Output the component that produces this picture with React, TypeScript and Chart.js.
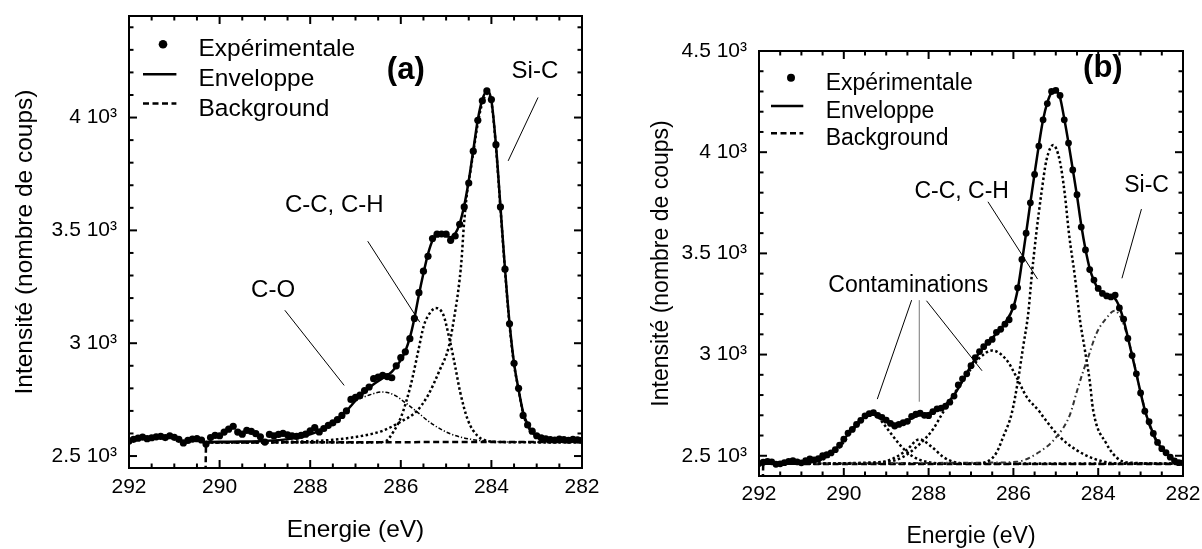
import React, { useEffect, useRef } from 'react';
import { Chart, registerables } from 'chart.js';

Chart.register(...registerables);

const FONT = "'Liberation Sans', Arial, Helvetica, sans-serif";

// ---------------- shared energy grid of the measured points (eV) ----------------
const energyGrid = [
  292.0, 291.9, 291.8, 291.7, 291.6, 291.5, 291.4, 291.3, 291.2, 291.1,
  291.0, 290.9, 290.8, 290.7, 290.6, 290.5, 290.4, 290.3, 290.2, 290.1,
  290.0, 289.9, 289.8, 289.7, 289.6, 289.5, 289.4, 289.3, 289.2, 289.1,
  289.0, 288.9, 288.8, 288.7, 288.6, 288.5, 288.4, 288.3, 288.2, 288.1,
  288.0, 287.9, 287.8, 287.7, 287.6, 287.5, 287.4, 287.3, 287.2, 287.1,
  287.0, 286.9, 286.8, 286.7, 286.6, 286.5, 286.4, 286.3, 286.2, 286.1,
  286.0, 285.9, 285.8, 285.7, 285.6, 285.5, 285.4, 285.3, 285.2, 285.1,
  285.0, 284.9, 284.8, 284.7, 284.6, 284.5, 284.4, 284.3, 284.2, 284.1,
  284.0, 283.9, 283.8, 283.7, 283.6, 283.5, 283.4, 283.3, 283.2, 283.1,
  283.0, 282.9, 282.8, 282.7, 282.6, 282.5, 282.4, 282.3, 282.2, 282.1,
  282.0,
];

// ---------------- panel (a) ----------------
const expA = [
  2567, 2574, 2579, 2584, 2577, 2581, 2585, 2587, 2582, 2590,
  2583, 2574, 2558, 2569, 2575, 2577, 2571, 2553, 2582, 2592,
  2590, 2606, 2619, 2632, 2606, 2597, 2614, 2609, 2599, 2585,
  2562, 2596, 2590, 2596, 2600, 2594, 2590, 2587, 2592, 2597,
  2612, 2626, 2607, 2622, 2636, 2647, 2661, 2680, 2700, 2751,
  2760, 2770, 2790, 2806, 2843, 2850, 2858, 2852, 2847, 2900,
  2936, 2962, 3020, 3110, 3224, 3319, 3385, 3464, 3483, 3484,
  3483, 3456, 3475, 3527, 3604, 3710, 3851, 3988, 4074, 4118,
  4080, 3880, 3604, 3328, 3086, 2911, 2800, 2680, 2638, 2610,
  2590, 2581, 2576, 2573, 2571, 2575, 2573, 2570, 2574, 2572,
  2570,
];

const envEnergyA = [
  290.3, 290.0, 289.5, 289.0, 288.5, 288.0, 287.6, 287.2, 287.0, 286.8,
  286.6, 286.4, 286.2, 286.0, 285.9, 285.8, 285.7, 285.6, 285.5, 285.4,
  285.3, 285.2, 285.1, 285.0, 284.9, 284.8, 284.7, 284.6, 284.5, 284.4,
  284.3, 284.2, 284.1, 284.0, 283.9, 283.8, 283.7, 283.6, 283.5, 283.4,
  283.3, 283.2, 283.1, 283.0, 282.8, 282.5, 282.0,
];
const envA = [
  2562, 2563, 2564, 2567, 2575, 2596, 2632, 2700, 2745, 2785,
  2818, 2845, 2873, 2925, 2965, 3025, 3110, 3215, 3310, 3395,
  3455, 3480, 3484, 3478, 3470, 3485, 3530, 3610, 3720, 3855,
  3990, 4080, 4115, 4075, 3880, 3605, 3330, 3090, 2912, 2795,
  2695, 2640, 2608, 2590, 2575, 2567, 2564,
];

const bgEnergyA = [290.31, 290.3, 282.0];
const bgA = [2430, 2560, 2563];

const sicEnergyA = [
  290.3, 289.5, 288.5, 287.5, 286.84, 286.4, 286.0, 285.65, 285.4, 285.15,
  284.94, 284.79, 284.74, 284.66, 284.61, 284.54, 284.46, 284.37, 284.3, 284.2,
  284.1, 284.0, 283.9, 283.8, 283.7, 283.6, 283.5, 283.4, 283.3, 283.2,
  283.1, 283.0, 282.8, 282.5, 282.0,
];
const sicA = [
  2561, 2561, 2563, 2572, 2590, 2612, 2652, 2699, 2769, 2877,
  2985, 3153, 3220, 3367, 3515, 3663, 3766, 3885, 3975, 4065,
  4105, 4068, 3870, 3598, 3322, 3082, 2905, 2795, 2688, 2634,
  2603, 2585, 2572, 2566, 2563,
];

const ccEnergyA = [
  290.3, 287.0, 286.5, 286.33, 286.15, 285.99, 285.78, 285.61, 285.49, 285.36,
  285.23, 285.06, 284.94, 284.81, 284.69, 284.52, 284.31, 284.14, 283.8, 282.0,
];
const ccA = [
  2560, 2560, 2561, 2566, 2612, 2675, 2815, 2970, 3079, 3133,
  3156, 3125, 3032, 2908, 2784, 2660, 2590, 2570, 2562, 2560,
];

const coEnergyA = [
  290.3, 289.5, 288.95, 288.1, 287.43, 287.0, 286.67, 286.42, 286.16, 285.91,
  285.66, 285.32, 284.9, 284.47, 284.14, 283.5, 282.0,
];
const coA = [
  2560, 2562, 2567, 2590, 2660, 2742, 2772, 2784, 2772, 2738,
  2699, 2644, 2598, 2575, 2567, 2562, 2560,
];

const yTickValuesA = [2500, 3000, 3500, 4000];
const yTickLabelsA = ['2.5 10³', '3 10³', '3.5 10³', '4 10³'];

const annotTextA = ['(a)', 'Si-C', 'C-C, C-H', 'C-O'];
const annotEA = [285.89, 283.04, 287.47, 288.82];
const annotIA = [4172, 4176, 3580, 3203];
const leaderStartEA = [282.97, 286.73, 288.56];
const leaderStartIA = [4089, 3452, 3146];
const leaderEndEA = [283.63, 285.58, 287.25];
const leaderEndIA = [3808, 3093, 2813];

// ---------------- panel (b) ----------------
const expB = [
  2462, 2468, 2472, 2470, 2458, 2460, 2466, 2472, 2476, 2470,
  2465, 2476, 2484, 2480, 2486, 2500, 2505, 2514, 2530, 2553,
  2582, 2612, 2630, 2655, 2675, 2697, 2708, 2713, 2700, 2690,
  2676, 2660, 2647, 2655, 2663, 2670, 2695, 2705, 2710, 2700,
  2698, 2718, 2732, 2735, 2745, 2765, 2795, 2850, 2880, 2905,
  2945, 2985, 3015, 3039, 3060, 3075, 3110, 3125, 3150, 3172,
  3236, 3330, 3470, 3600, 3750, 3890, 4030, 4160, 4240, 4300,
  4305, 4280, 4160, 4045, 3912, 3790, 3630, 3517, 3420, 3368,
  3327, 3302, 3290, 3285, 3294, 3230, 3175, 3080, 2995, 2905,
  2810, 2720, 2668, 2610, 2566, 2535, 2515, 2493, 2475, 2466,
  2465,
];

const envEnergyB = [
  291.9, 291.0, 290.6, 290.4, 290.2, 290.0, 289.8, 289.6, 289.4, 289.3,
  289.2, 289.0, 288.8, 288.6, 288.4, 288.2, 288.0, 287.8, 287.6, 287.4,
  287.2, 287.0, 286.8, 286.6, 286.4, 286.2, 286.0, 285.9, 285.8, 285.7,
  285.6, 285.5, 285.4, 285.3, 285.2, 285.1, 285.0, 284.9, 284.8, 284.7,
  284.6, 284.5, 284.4, 284.3, 284.2, 284.1, 284.0, 283.9, 283.8, 283.7,
  283.6, 283.5, 283.4, 283.3, 283.2, 283.1, 283.0, 282.9, 282.8, 282.6,
  282.4, 282.2, 282.0,
];
const envB = [
  2460, 2462, 2475, 2495, 2530, 2580, 2632, 2677, 2705, 2707,
  2700, 2677, 2658, 2662, 2685, 2703, 2710, 2728, 2752, 2800,
  2870, 2945, 3010, 3058, 3105, 3155, 3235, 3320, 3455, 3600,
  3750, 3895, 4035, 4160, 4245, 4295, 4305, 4270, 4165, 4045,
  3915, 3785, 3640, 3520, 3425, 3365, 3325, 3303, 3290, 3283,
  3275, 3235, 3170, 3085, 2995, 2905, 2812, 2726, 2662, 2565,
  2512, 2478, 2463,
];

const bgEnergyB = [291.91, 291.9, 282.0];
const bgB = [2380, 2460, 2459];

const ccEnergyB = [
  291.9, 287.0, 286.63, 286.4, 286.24, 286.04, 285.89, 285.77, 285.65, 285.57,
  285.46, 285.34, 285.22, 285.06, 284.91, 284.79, 284.69, 284.55, 284.43, 284.32,
  284.2, 284.12, 283.81, 283.49, 283.18, 282.0,
];
const ccB = [
  2460, 2460, 2470, 2515, 2594, 2709, 2874, 3039, 3204, 3385,
  3599, 3797, 3961, 4035, 3961, 3797, 3599, 3385, 3171, 3030,
  2870, 2726, 2561, 2479, 2465, 2460,
];

const sicEnergyB = [
  291.9, 286.7, 285.93, 285.38, 284.98, 284.67, 284.5, 284.35, 284.24, 284.04,
  283.81, 283.61, 283.5, 283.4, 283.2, 283.0, 282.8, 282.6, 282.4, 282.2,
  282.0,
];
const sicB = [
  2460, 2466, 2470, 2520, 2594, 2701, 2820, 2920, 2985, 3105,
  3179, 3217, 3195, 3150, 3000, 2815, 2655, 2560, 2508, 2478,
  2466,
];

const cont1EnergyB = [
  291.9, 290.8, 290.5, 290.2, 290.0, 289.8, 289.6, 289.45, 289.33, 289.2,
  289.07, 288.83, 288.6, 288.36, 288.05, 287.5, 282.0,
];
const cont1B = [
  2460, 2465, 2480, 2520, 2568, 2625, 2668, 2698, 2705, 2693,
  2660, 2594, 2536, 2495, 2470, 2461, 2460,
];

const cont2EnergyB = [291.9, 289.6, 289.15, 288.83, 288.52, 288.22, 287.93, 287.66, 287.34, 287.0, 282.0];
const cont2B = [2460, 2461, 2466, 2487, 2528, 2581, 2545, 2495, 2466, 2461, 2460];

const cont3EnergyB = [
  291.9, 289.0, 288.6, 288.2, 287.9, 287.7, 287.34, 287.0, 286.79, 286.5,
  286.16, 285.93, 285.69, 285.38, 285.3, 284.91, 284.51, 284.12, 283.57, 282.0,
];
const cont3B = [
  2460, 2470, 2495, 2560, 2630, 2700, 2825, 2930, 2985, 3020,
  2973, 2890, 2792, 2717, 2693, 2594, 2528, 2487, 2462, 2460,
];

const yTickValuesB = [2500, 3000, 3500, 4000, 4500];
const yTickLabelsB = ['2.5 10³', '3 10³', '3.5 10³', '4 10³', '4.5 10³'];

const annotTextB = ['(b)', 'Si-C', 'C-C, C-H', 'Contaminations'];
const annotEB = [283.89, 282.86, 287.22, 288.48];
const annotIB = [4372, 3805, 3772, 3310];
const leaderStartEB = [282.98, 286.6, 288.4, 288.22, 288.05];
const leaderStartIB = [3719, 3755, 3269, 3269, 3266];
const leaderEndEB = [283.44, 285.43, 289.21, 288.22, 286.74];
const leaderEndIB = [3377, 3373, 2780, 2767, 2920];
const leaderColorB = ['#000', '#000', '#000', '#777', '#000'];

// ---------------- shared labels ----------------
const xTickValues = [292, 290, 288, 286, 284, 282];
const xTickLabels = ['292', '290', '288', '286', '284', '282'];
const legendLabels = ['Expérimentale', 'Enveloppe', 'Background'];
const xTitle = 'Energie (eV)';
const yTitle = 'Intensité (nombre de coups)';

const pts = (xs: number[], ys: number[]) => xs.map((x, i) => ({ x, y: ys[i] }));

type Spec = {
  yMin: number;
  yMax: number;
  yTickValues: number[];
  yTickLabels: string[];
  axisWidth: number;
  axisHeight: number;
  padTop: number;
  padRight: number;
  tickFont: number;
  titleFont: number;
  yTitlePad: number;
  xTitlePad: number;
  xTickPad: number;
  yTickPad: number;
  datasets: any[];
  legend: { dotX: number; rows: number[]; lineX0: number; lineX1: number; textX: number; font: number; r: number };
  annotText: string[];
  annotE: number[];
  annotI: number[];
  annotFont: number;
  boldFont: number;
  leaderS: [number[], number[]];
  leaderE: [number[], number[]];
  leaderColor: string[];
};

function overlayPlugin(spec: Spec) {
  return {
    id: 'overlay',
    afterDraw(chart: any) {
      const { ctx, chartArea: a, scales } = chart;
      const x = scales.x;
      const y = scales.y;
      ctx.save();
      ctx.strokeStyle = '#000';
      ctx.lineWidth = 2;
      ctx.setLineDash([]);
      const seg = (x0: number, y0: number, x1: number, y1: number) => {
        ctx.beginPath();
        ctx.moveTo(x0, y0);
        ctx.lineTo(x1, y1);
        ctx.stroke();
      };
      // inward ticks on all four sides
      for (const t of x.ticks) {
        const v = t.value;
        const px = x.getPixelForValue(v);
        const major = Math.abs(v / 2 - Math.round(v / 2)) < 1e-6;
        const len = major ? 8 : 4.5;
        seg(px, a.bottom, px, a.bottom - len);
        seg(px, a.top, px, a.top + len);
      }
      for (const t of y.ticks) {
        const v = t.value;
        const py = y.getPixelForValue(v);
        const major = Math.abs(v / 500 - Math.round(v / 500)) < 1e-6;
        const len = major ? 8 : 4.5;
        seg(a.left, py, a.left + len, py);
        seg(a.right, py, a.right - len, py);
      }
      ctx.strokeRect(a.left, a.top, a.right - a.left, a.bottom - a.top);

      // leader lines
      ctx.lineWidth = 1;
      for (let k = 0; k < spec.leaderS[0].length; k++) {
        ctx.strokeStyle = spec.leaderColor[k] || '#000';
        seg(
          x.getPixelForValue(spec.leaderS[0][k]),
          y.getPixelForValue(spec.leaderS[1][k]),
          x.getPixelForValue(spec.leaderE[0][k]),
          y.getPixelForValue(spec.leaderE[1][k])
        );
      }
      // annotation texts
      ctx.fillStyle = '#000';
      ctx.textAlign = 'center';
      ctx.textBaseline = 'alphabetic';
      spec.annotText.forEach((txt, k) => {
        const bold = txt.startsWith('(');
        ctx.font = bold ? `bold ${spec.boldFont}px ${FONT}` : `${spec.annotFont}px ${FONT}`;
        ctx.fillText(txt, x.getPixelForValue(spec.annotE[k]), y.getPixelForValue(spec.annotI[k]));
      });

      // legend
      const L = spec.legend;
      ctx.strokeStyle = '#000';
      ctx.fillStyle = '#000';
      ctx.beginPath();
      ctx.arc(a.left + L.dotX, a.top + L.rows[0], L.r, 0, Math.PI * 2);
      ctx.fill();
      ctx.lineWidth = 2.5;
      seg(a.left + L.lineX0, a.top + L.rows[1], a.left + L.lineX1, a.top + L.rows[1]);
      ctx.setLineDash([6, 3.5]);
      seg(a.left + L.lineX0, a.top + L.rows[2], a.left + L.lineX1, a.top + L.rows[2]);
      ctx.setLineDash([]);
      ctx.font = `${L.font}px ${FONT}`;
      ctx.textAlign = 'left';
      legendLabels.forEach((lab, k) => {
        ctx.fillText(lab, a.left + L.textX, a.top + L.rows[k] + 12);
      });
      ctx.restore();
    },
  };
}

function makeConfig(spec: Spec): any {
  return {
    type: 'line',
    data: { datasets: spec.datasets },
    options: {
      responsive: false,
      animation: false,
      devicePixelRatio: 1,
      events: [],
      layout: { padding: { left: 0, top: spec.padTop, right: spec.padRight, bottom: 0 } },
      plugins: { legend: { display: false }, tooltip: { enabled: false }, title: { display: false } },
      scales: {
        x: {
          type: 'linear',
          reverse: true,
          min: 282,
          max: 292,
          grid: { display: false, drawTicks: false },
          border: { display: false },
          afterFit: (s: any) => {
            s.height = spec.axisHeight;
            s.paddingLeft = 0;
            s.paddingRight = 0;
          },
          ticks: {
            stepSize: 0.5,
            autoSkip: false,
            maxRotation: 0,
            minRotation: 0,
            padding: spec.xTickPad,
            color: '#000',
            font: { family: FONT, size: spec.tickFont },
            callback: (v: any) => {
              const k = xTickValues.findIndex((t) => Math.abs(t - Number(v)) < 1e-6);
              return k >= 0 ? xTickLabels[k] : '';
            },
          },
          title: {
            display: true,
            text: xTitle,
            color: '#000',
            font: { family: FONT, size: spec.titleFont, lineHeight: 1 },
            padding: { top: 0, bottom: spec.xTitlePad },
          },
        },
        y: {
          type: 'linear',
          min: spec.yMin,
          max: spec.yMax,
          grid: { display: false, drawTicks: false },
          border: { display: false },
          afterBuildTicks: (s: any) => {
            const out: { value: number }[] = [];
            for (let v = Math.ceil(spec.yMin / 100) * 100; v <= spec.yMax + 1e-6; v += 100) out.push({ value: v });
            s.ticks = out;
          },
          afterFit: (s: any) => {
            s.width = spec.axisWidth;
            s.paddingTop = 0;
            s.paddingBottom = 0;
          },
          ticks: {
            autoSkip: false,
            padding: spec.yTickPad,
            color: '#000',
            font: { family: FONT, size: spec.tickFont },
            callback: (v: any) => {
              const k = spec.yTickValues.findIndex((t) => Math.abs(t - Number(v)) < 1e-6);
              return k >= 0 ? spec.yTickLabels[k] : '';
            },
          },
          title: {
            display: true,
            text: yTitle,
            color: '#000',
            font: { family: FONT, size: spec.titleFont, lineHeight: 1 },
            padding: { top: spec.yTitlePad, bottom: 0 },
          },
        },
      },
    },
    plugins: [overlayPlugin(spec)],
  };
}

const lineDs = (label: string, xs: number[], ys: number[], dash: number[], width: number, color = '#000', smooth = true) => ({
  label,
  data: pts(xs, ys),
  borderColor: color,
  borderWidth: width,
  borderDash: dash,
  pointRadius: 0,
  fill: false,
  cubicInterpolationMode: smooth ? 'monotone' : 'default',
  tension: 0,
});

const expDs = (ys: number[], r: number) => ({
  label: legendLabels[0],
  data: pts(energyGrid, ys),
  showLine: false,
  pointRadius: r,
  pointBackgroundColor: '#000',
  pointBorderColor: '#000',
  pointBorderWidth: 0,
});

const specA: Spec = {
  yMin: 2447,
  yMax: 4450,
  yTickValues: yTickValuesA,
  yTickLabels: yTickLabelsA,
  axisWidth: 129,
  axisHeight: 81,
  padTop: 16,
  padRight: 18,
  tickFont: 21,
  titleFont: 24.5,
  yTitlePad: 13,
  xTitlePad: 7,
  xTickPad: 7,
  yTickPad: 12,
  datasets: [
    expDs(expA, 3.6),
    lineDs(legendLabels[1], envEnergyA, envA, [], 2.5),
    lineDs('Si-C', sicEnergyA, sicA, [2.5, 2.5], 2.5),
    lineDs('C-C, C-H', ccEnergyA, ccA, [2.5, 2.5], 2.5),
    lineDs('C-O', coEnergyA, coA, [4, 2, 1.2, 2], 1.5),
    lineDs(legendLabels[2], bgEnergyA, bgA, [6, 3.5], 2.5, '#000', false),
  ],
  legend: { dotX: 34, rows: [28.3, 58.3, 87.6], lineX0: 14, lineX1: 47.4, textX: 69.5, font: 24.5, r: 4.3 },
  annotText: annotTextA,
  annotE: annotEA,
  annotI: annotIA,
  annotFont: 24,
  boldFont: 31,
  leaderS: [leaderStartEA, leaderStartIA],
  leaderE: [leaderEndEA, leaderEndIA],
  leaderColor: ['#000', '#000', '#000'],
};

const specB: Spec = {
  yMin: 2400,
  yMax: 4500,
  yTickValues: yTickValuesB,
  yTickLabels: yTickLabelsB,
  axisWidth: 159,
  axisHeight: 73,
  padTop: 51,
  padRight: 19,
  tickFont: 21,
  titleFont: 23,
  yTitlePad: 50,
  xTitlePad: 1,
  xTickPad: 6,
  yTickPad: 12,
  datasets: [
    expDs(expB, 3.4),
    lineDs(legendLabels[1], envEnergyB, envB, [], 2.5),
    lineDs('C-C, C-H', ccEnergyB, ccB, [2.5, 2.5], 2.5),
    lineDs('Si-C', sicEnergyB, sicB, [5, 3, 1.5, 3], 2, '#333'),
    lineDs('Contamination 1', cont1EnergyB, cont1B, [2.5, 2.5], 2.5),
    lineDs('Contamination 2', cont2EnergyB, cont2B, [2.5, 2.5], 2.5),
    lineDs('Contamination 3', cont3EnergyB, cont3B, [2.5, 2.5], 2.5),
    lineDs(legendLabels[2], bgEnergyB, bgB, [6, 3.5], 2.5, '#000', false),
  ],
  legend: { dotX: 32, rows: [26.7, 55, 82.3], lineX0: 12, lineX1: 44.3, textX: 66.7, font: 23, r: 4 },
  annotText: annotTextB,
  annotE: annotEB,
  annotI: annotIB,
  annotFont: 23,
  boldFont: 31,
  leaderS: [leaderStartEB, leaderStartIB],
  leaderE: [leaderEndEB, leaderEndIB],
  leaderColor: leaderColorB,
};

export default function App() {
  const refA = useRef<HTMLCanvasElement>(null);
  const refB = useRef<HTMLCanvasElement>(null);
  useEffect(() => {
    const ca = new Chart(refA.current as HTMLCanvasElement, makeConfig(specA));
    const cb = new Chart(refB.current as HTMLCanvasElement, makeConfig(specB));
    return () => {
      ca.destroy();
      cb.destroy();
    };
  }, []);
  return (
    <div style={{ position: 'absolute', left: 0, top: 0, width: 1202, height: 549, background: '#fff', overflow: 'hidden' }}>
      <canvas ref={refA} width={600} height={549} style={{ position: 'absolute', left: 0, top: 0, width: 600, height: 549 }} />
      <canvas ref={refB} width={602} height={549} style={{ position: 'absolute', left: 600, top: 0, width: 602, height: 549 }} />
    </div>
  );
}
